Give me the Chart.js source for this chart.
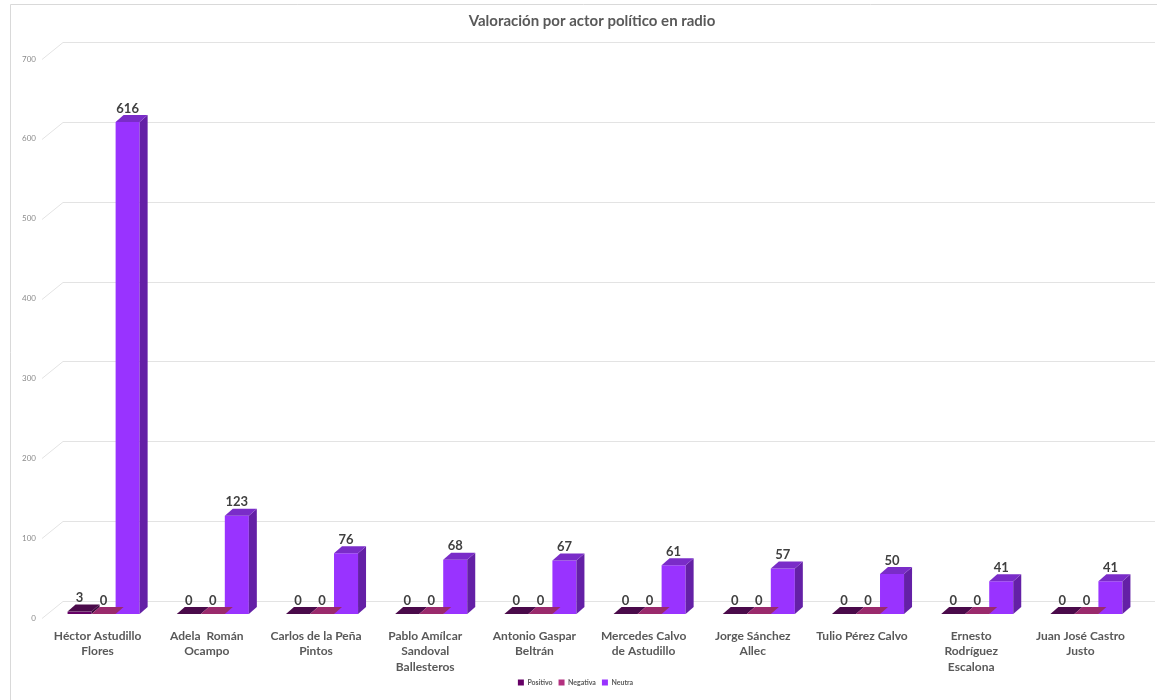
<!DOCTYPE html>
<html>
<head>
<meta charset="utf-8">
<script src="https://cdn.jsdelivr.net/npm/chart.js@4.4.0/dist/chart.umd.min.js"></script>
<style>
  html, body { margin: 0; padding: 0; background: #fff; }
  #wrap { position: relative; width: 1157px; height: 700px; }
</style>
</head>
<body>
<div id="wrap"><canvas id="c"></canvas></div>
<script>
// datos
const TITULO = 'Valoración por actor político en radio';
const ACTORES = [
  ['Héctor Astudillo', 'Flores'],
  ['Adela  Román', 'Ocampo'],
  ['Carlos de la Peña', 'Pintos'],
  ['Pablo Amílcar', 'Sandoval', 'Ballesteros'],
  ['Antonio Gaspar', 'Beltrán'],
  ['Mercedes Calvo', 'de Astudillo'],
  ['Jorge Sánchez', 'Allec'],
  ['Tulio Pérez Calvo'],
  ['Ernesto', 'Rodríguez', 'Escalona'],
  ['Juan José Castro', 'Justo'],
];
const POSITIVO = [3, 0, 0, 0, 0, 0, 0, 0, 0, 0];
const NEGATIVA = [0, 0, 0, 0, 0, 0, 0, 0, 0, 0];
const NEUTRA   = [616, 123, 76, 68, 67, 61, 57, 50, 41, 41];
const Y_TICKS  = [0, 100, 200, 300, 400, 500, 600, 700];

// colores por serie: frente, tapa, lado
const FACES = [
  { front: '#660066', top: '#4a0a4a', side: '#3a063a' },
  { front: '#b3307f', top: '#9a2a6c', side: '#7a1f55' },
  { front: '#9933ff', top: '#7a2cc8', side: '#6420a6' },
];
const DEPTH_X = 8, DEPTH_Y = -7;        // profundidad de las barras
const WALL_X = 21, WALL_Y = -17;        // desplazamiento de la pared del fondo
const LABEL_SHIFT = 4;

const FONT = 'Lato, "Open Sans", sans-serif';

// pared de fondo + líneas de cuadrícula en perspectiva, título
const wallPlugin = {
  id: 'wall',
  beforeDatasetsDraw(chart) {
    const { ctx } = chart;
    const y = chart.scales.y;
    ctx.save();
    ctx.strokeStyle = '#e3e3e3';
    ctx.lineWidth = 1;
    Y_TICKS.forEach(v => {
      const fy = Math.round(y.getPixelForValue(v) + LABEL_SHIFT) + 0.5;
      ctx.beginPath();
      ctx.moveTo(42, fy);
      ctx.lineTo(42 + WALL_X, fy + WALL_Y);
      ctx.lineTo(1155, fy + WALL_Y);
      ctx.stroke();
    });
    // marco del gráfico
    ctx.strokeStyle = '#d9d9d9';
    ctx.beginPath();
    ctx.moveTo(10.5, 700);
    ctx.lineTo(10.5, 4.5);
    ctx.lineTo(1157, 4.5);
    ctx.stroke();
    // título
    ctx.fillStyle = '#595959';
    ctx.font = 'bold 15px ' + FONT;
    ctx.textAlign = 'center';
    ctx.textBaseline = 'middle';
    ctx.fillText(TITULO, 592, 21);
    ctx.restore();
  },
  afterDatasetsDraw(chart) {
    const { ctx } = chart;
    ctx.save();
    chart.data.datasets.forEach((ds, di) => {
      const meta = chart.getDatasetMeta(di);
      const f = FACES[di];
      meta.data.forEach((bar, i) => {
        const w = bar.width;
        const l = bar.x - w / 2, r = bar.x + w / 2;
        const top = bar.y, base = bar.base;
        // lado
        ctx.fillStyle = f.side;
        ctx.beginPath();
        ctx.moveTo(r, top);
        ctx.lineTo(r + DEPTH_X, top + DEPTH_Y);
        ctx.lineTo(r + DEPTH_X, base + DEPTH_Y);
        ctx.lineTo(r, base);
        ctx.closePath();
        ctx.fill();
        // tapa
        ctx.fillStyle = f.top;
        ctx.beginPath();
        ctx.moveTo(l, top);
        ctx.lineTo(r, top);
        ctx.lineTo(r + DEPTH_X, top + DEPTH_Y);
        ctx.lineTo(l + DEPTH_X, top + DEPTH_Y);
        ctx.closePath();
        ctx.fill();
        // etiqueta
        ctx.fillStyle = '#404040';
        ctx.font = 'bold 13px ' + FONT;
        ctx.textAlign = 'center';
        ctx.textBaseline = 'bottom';
        ctx.fillText(String(ds.data[i]), bar.x, top + DEPTH_Y);
      });
    });
    ctx.restore();
  }
};

new Chart(document.getElementById('c'), {
  type: 'bar',
  data: {
    labels: ACTORES,
    datasets: [
      { label: 'Positivo', data: POSITIVO, backgroundColor: FACES[0].front },
      { label: 'Negativa', data: NEGATIVA, backgroundColor: FACES[1].front },
      { label: 'Neutra',   data: NEUTRA,   backgroundColor: FACES[2].front },
    ]
  },
  options: {
    responsive: true, maintainAspectRatio: false, animation: false,
    layout: { padding: { top: 55, left: 10, right: 16, bottom: 4 } },
    datasets: { bar: { categoryPercentage: 0.66, barPercentage: 1.0 } },
    plugins: {
      title: { display: false },
      legend: {
        position: 'bottom',
        labels: {
          boxWidth: 6, boxHeight: 6, padding: 6, color: '#595959',
          font: { family: FONT, size: 7, weight: 'bold' }
        }
      },
      tooltip: { enabled: false }
    },
    scales: {
      x: {
        grid: { display: false, drawTicks: false },
        border: { display: false },
        ticks: {
          color: '#595959', maxRotation: 0, autoSkip: false, padding: 14, labelOffset: -6,
          font: { family: FONT, size: 12, weight: 'bold', lineHeight: 1.3 }
        },
        afterFit(s) { s.height = 59; }
      },
      y: {
        min: 0, max: 700,
        grid: { display: false, drawTicks: false },
        border: { display: false },
        ticks: {
          stepSize: 100, color: '#8c8c8c', padding: 13, labelOffset: LABEL_SHIFT,
          font: { family: FONT, size: 8 }
        },
        afterFit(s) { s.width = 39; }
      }
    }
  },
  plugins: [wallPlugin]
});
</script>
</body>
</html>
